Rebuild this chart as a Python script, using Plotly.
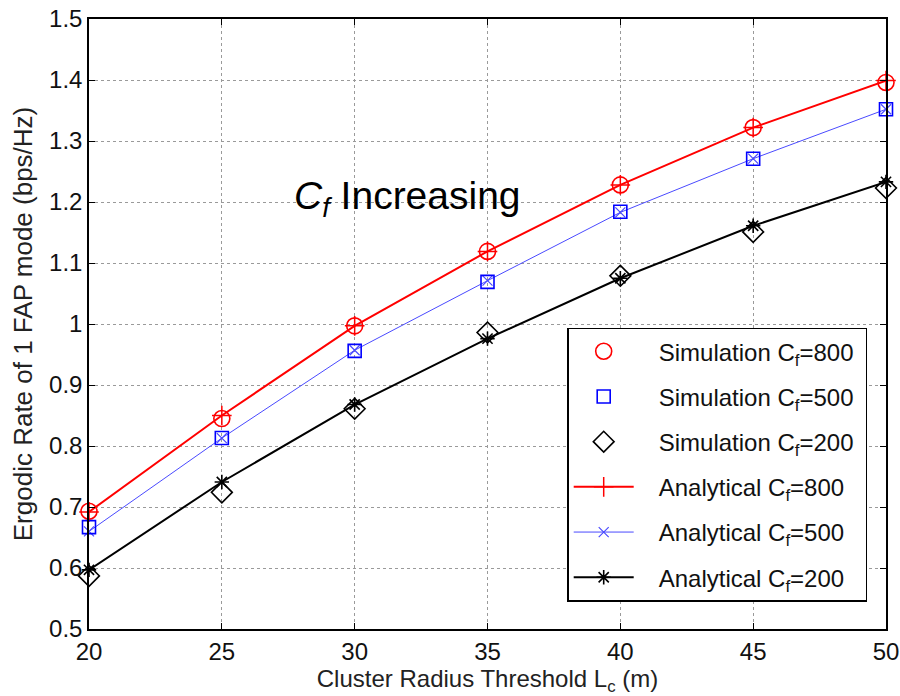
import plotly.graph_objects as go

radius = [20, 25, 30, 35, 40, 45, 50]
sim_800 = [0.693, 0.845, 0.997, 1.119, 1.228, 1.322, 1.396]
sim_500 = [0.667, 0.813, 0.956, 1.069, 1.184, 1.271, 1.352]
sim_200 = [0.587, 0.724, 0.861, 0.986, 1.079, 1.151, 1.223]
ana_800 = [0.692, 0.850, 0.997, 1.119, 1.228, 1.322, 1.399]
ana_500 = [0.660, 0.813, 0.957, 1.071, 1.183, 1.271, 1.352]
ana_200 = [0.597, 0.741, 0.868, 0.976, 1.075, 1.161, 1.233]

x_ticks = [20, 25, 30, 35, 40, 45, 50]
y_ticks = [0.5, 0.6, 0.7, 0.8, 0.9, 1.0, 1.1, 1.2, 1.3, 1.4, 1.5]
y_tick_labels = ["0.5", "0.6", "0.7", "0.8", "0.9", "1", "1.1", "1.2", "1.3", "1.4", "1.5"]

RED = "#ff0000"
BLUE = "#0000ff"
BLUE_LINE = "#4a4aff"
BLACK = "#000000"
FONT = "Liberation Sans, Arial, sans-serif"
PAD = "\u00a0\u00a0\u00a0"
TAIL = "\u00a0"

fig = go.Figure()

fig.add_trace(go.Scatter(
    x=radius, y=ana_800, mode="lines+markers", name=PAD + "Analytical C<sub>f</sub>=800" + TAIL,
    line=dict(color=RED, width=2), cliponaxis=False,
    marker=dict(symbol="cross-thin", size=14, line=dict(color=RED, width=1.5)),
    legendrank=4, legendgroup="a800"))
fig.add_trace(go.Scatter(
    x=radius, y=ana_500, mode="lines+markers", name=PAD + "Analytical C<sub>f</sub>=500" + TAIL,
    line=dict(color=BLUE_LINE, width=1), cliponaxis=False,
    marker=dict(symbol="x-thin", size=10, line=dict(color=BLUE_LINE, width=1.2)),
    legendrank=5, legendgroup="a500"))
fig.add_trace(go.Scatter(
    x=radius, y=ana_200, mode="lines+markers", name=PAD + "Analytical C<sub>f</sub>=200" + TAIL,
    line=dict(color=BLACK, width=2), cliponaxis=False,
    marker=dict(symbol="asterisk-open", size=12, line=dict(color=BLACK, width=1.6)),
    legendrank=6, legendgroup="a200"))

fig.add_trace(go.Scatter(
    x=radius, y=sim_800, mode="markers", name=PAD + "Simulation C<sub>f</sub>=800" + TAIL,
    cliponaxis=False,
    marker=dict(symbol="circle-open", size=16, color=RED, line=dict(color=RED, width=1.6)),
    legendrank=1, legendgroup="s800"))
fig.add_trace(go.Scatter(
    x=radius, y=sim_500, mode="markers", name=PAD + "Simulation C<sub>f</sub>=500" + TAIL,
    cliponaxis=False,
    marker=dict(symbol="square-open", size=13, color=BLUE, line=dict(color=BLUE, width=1.6)),
    legendrank=2, legendgroup="s500"))
fig.add_trace(go.Scatter(
    x=radius, y=sim_200, mode="markers", name=PAD + "Simulation C<sub>f</sub>=200" + TAIL,
    cliponaxis=False,
    marker=dict(symbol="diamond-open", size=16, color=BLACK, line=dict(color=BLACK, width=1.6)),
    legendrank=3, legendgroup="s200"))

axis_common = dict(
    showline=True, linecolor="black", linewidth=1.5, mirror="ticks",
    ticks="inside", ticklen=6, tickcolor="black", tickwidth=1,
    showgrid=True, gridcolor="#9a9a9a", griddash="dot", gridwidth=1,
    zeroline=False, automargin=False,
    tickfont=dict(family=FONT, size=24, color="#111"),
)

fig.update_xaxes(range=[20, 50], tickvals=x_ticks, ticktext=[str(v) for v in x_ticks],
                 title=dict(text="Cluster Radius Threshold L<sub>c</sub> (m)", standoff=8,
                            font=dict(family=FONT, size=24, color="#222")),
                 **axis_common)
fig.update_yaxes(range=[0.5, 1.5], tickvals=y_ticks, ticktext=y_tick_labels,
                 title=dict(text="Ergodic Rate of 1 FAP mode (bps/Hz)", standoff=9,
                            font=dict(family=FONT, size=26, color="#222")),
                 **axis_common)

fig.add_annotation(x=32, y=1.205, xref="x", yref="y",
                   text="<i>C<sub>f</sub></i> Increasing", showarrow=False,
                   xanchor="center", yanchor="middle",
                   font=dict(family=FONT, size=39, color="black"))

fig.update_layout(
    width=900, height=696,
    margin=dict(l=89, r=14, t=19, b=67),
    plot_bgcolor="white", paper_bgcolor="white",
    legend=dict(x=0.600, y=0.494, xanchor="left", yanchor="top",
                bgcolor="white", bordercolor="black", borderwidth=1.5,
                font=dict(family=FONT, size=24, color="#111"),
                tracegroupgap=11, itemwidth=60),
    showlegend=True,
)

fig.write_html("out.html")
